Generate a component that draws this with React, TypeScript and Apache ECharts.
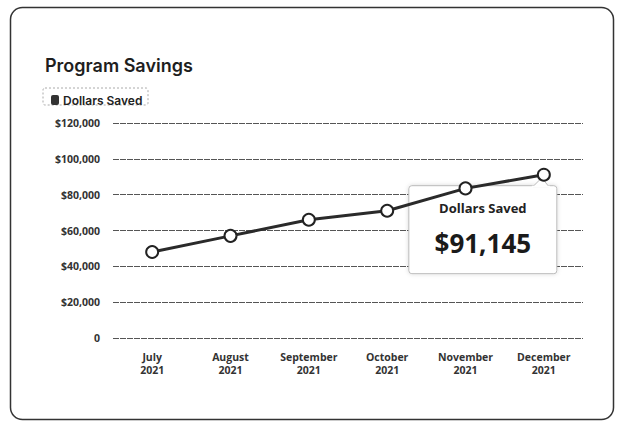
import React, { useEffect, useRef } from "react";
import * as echarts from "echarts";

const categories = ["July\n2021", "August\n2021", "September\n2021", "October\n2021", "November\n2021", "December\n2021"];
const dollarsSaved = [48000, 57000, 66000, 71000, 83500, 91145];
const seriesName = "Dollars Saved";
const yMin = 0;
const yMax = 120000;
const yInterval = 20000;
const highlightIndex = 5;

const fmtDollar = (v: number) => (v === 0 ? "0" : "$" + v.toLocaleString("en-US"));

export default function App() {
  const ref = useRef<HTMLDivElement>(null);
  useEffect(() => {
    if (!ref.current) return;
    const chart = echarts.init(ref.current, null, { renderer: "svg" });
    const labelFont = { fontFamily: "Open Sans", fontWeight: 700, fontSize: 10.5, color: "#333" };
    chart.setOption({
      animation: false,
      backgroundColor: "#fff",
      title: {
        text: "Program Savings",
        left: 40,
        top: 51,
        textStyle: { fontFamily: "Inter", fontWeight: 600, fontSize: 18, color: "#1e1e1e" },
      },
      legend: {
        left: 46,
        top: 89,
        icon: "roundRect",
        itemWidth: 8,
        itemHeight: 10,
        itemGap: 4,
        itemStyle: { color: "#333", borderWidth: 0 },
        textStyle: { fontFamily: "Inter", fontWeight: 600, fontSize: 12, color: "#222", padding: [0, 0, 0, -1] },
        data: [seriesName],
      },
      grid: { left: 113, right: 37, top: 123, bottom: 83 },
      xAxis: {
        type: "category",
        data: categories,
        boundaryGap: true,
        axisLine: { show: false },
        axisTick: { show: false },
        axisLabel: { ...labelFont, margin: 12, lineHeight: 13, interval: 0 },
      },
      yAxis: {
        type: "value",
        min: yMin,
        max: yMax,
        interval: yInterval,
        axisLine: { show: false },
        axisTick: { show: false },
        axisLabel: { ...labelFont, margin: 13, formatter: fmtDollar },
        splitLine: { lineStyle: { color: "#555", width: 1, type: [6, 1] } },
      },
      series: [
        {
          name: seriesName,
          type: "line",
          data: dollarsSaved,
          color: "#2a2a2a",
          lineStyle: { color: "#2a2a2a", width: 3 },
          symbol: "circle",
          symbolSize: 12,
          itemStyle: { color: "#fff", borderColor: "#222", borderWidth: 2 },
        },
      ],
    });
    const [px, py] = chart.convertToPixel({ gridIndex: 0 }, [highlightIndex, dollarsSaved[highlightIndex]]) as number[];
    const bx = px - 135;
    const by = py + 11;
    chart.setOption({
      graphic: [
        {
          type: "rect",
          left: 8,
          top: 5,
          shape: { width: 603, height: 412, r: 12 },
          style: { fill: "none", stroke: "#333", lineWidth: 1.5 },
          silent: true,
          z: 100,
        },
        {
          type: "rect",
          x: 43,
          y: 88,
          shape: { width: 105, height: 17, r: 2 },
          style: { fill: "none", stroke: "#aaa", lineWidth: 1, lineDash: [2, 2] },
          silent: true,
        },
        {
          type: "group",
          x: bx,
          y: by,
          z: 50,
          children: [
            {
              type: "rect",
              shape: { x: 0, y: 0, width: 148, height: 88, r: 3 },
              style: { fill: "#fff", stroke: "#bbb", lineWidth: 1, shadowBlur: 4, shadowColor: "rgba(0,0,0,0.15)" },
            },
            {
              type: "polygon",
              shape: { points: [[124, 1], [133, -8], [140, 1]] },
              style: { fill: "#fff", stroke: "#bbb", lineWidth: 1 },
            },
            {
              type: "rect",
              shape: { x: 123, y: 0, width: 18, height: 2 },
              style: { fill: "#fff" },
            },
            {
              type: "text",
              x: 74,
              y: 22,
              style: {
                text: seriesName,
                align: "center",
                verticalAlign: "middle",
                fontFamily: "Open Sans",
                fontWeight: 700,
                fontSize: 13,
                fill: "#222",
              },
            },
            {
              type: "text",
              x: 74,
              y: 57,
              style: {
                text: fmtDollar(dollarsSaved[highlightIndex]),
                align: "center",
                verticalAlign: "middle",
                fontFamily: "Open Sans",
                fontWeight: 700,
                fontSize: 26,
                fill: "#1a1a1a",
              },
            },
          ],
        },
      ],
    });
    return () => chart.dispose();
  }, []);
  return <div ref={ref} style={{ position: "fixed", left: 0, top: 0, width: 620, height: 421 }} />;
}
